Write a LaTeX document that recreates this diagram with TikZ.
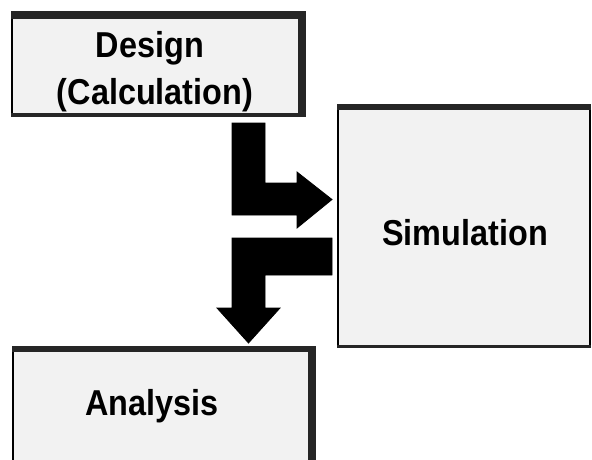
\documentclass[tikz,border=0pt]{standalone}
\usepackage{fontspec}
\setmainfont{Liberation Sans}
\newcommand{\condensed}[1]{\scalebox{0.9}[1]{#1}}
\begin{document}
\begin{tikzpicture}[x=1pt,y=-1pt]
\useasboundingbox (0,0) rectangle (592,459);
\tikzset{
  panel/.style={draw=black, line width=1.4pt, fill=black!5, inner sep=0pt},
  band/.style={fill=black!85},
  lbl/.style={font=\fontsize{36}{42}\selectfont\bfseries, inner sep=0pt, anchor=base},
  bent/.style={fill=black, draw=black, line width=0.8pt, line join=miter}
}
% boxes
\node[panel, minimum width=293pt, minimum height=104pt] (design) at (158.5,64) {};
\fill[band] (design.north west) rectangle ([yshift=-8pt]design.north east);
\fill[band] ([xshift=-8pt]design.north east) rectangle (design.south east);
\fill[band] ([yshift=4pt]design.south west) rectangle (design.south east);
\node[lbl] (designtxt) at (150,57) {\condensed{Design}};
\node[lbl] (calctxt) at (155,104) {\condensed{(Calculation)}};

\node[panel, minimum width=252pt, minimum height=242pt] (sim) at (464,226) {};
\fill[band] (sim.north west) rectangle ([yshift=-6pt]sim.north east);
\fill[band] ([yshift=3pt]sim.south west) rectangle (sim.south east);
\node[lbl] (simtxt) at (465,245) {\condensed{Simulation}};

\node[panel, minimum width=302pt, minimum height=123pt] (ana) at (164,408.5) {};
\fill[band] (ana.north west) rectangle ([yshift=-6pt]ana.north east);
\fill[band] ([xshift=-8pt]ana.north east) rectangle (ana.south east);
\node[lbl] (anatxt) at (152,415) {\condensed{Analysis}};

% bent arrows
\draw[bent] (232,123) -- (265,123) -- (265,183) -- (297,183) -- (297,172)
  -- (332,199.5) -- (297,228) -- (297,215) -- (232,215) -- cycle;
\draw[bent] (332,238) -- (332,275) -- (265,275) -- (265,308) -- (280,308)
  -- (248.5,343) -- (217,308) -- (232,308) -- (232,238) -- cycle;
\end{tikzpicture}
\end{document}
